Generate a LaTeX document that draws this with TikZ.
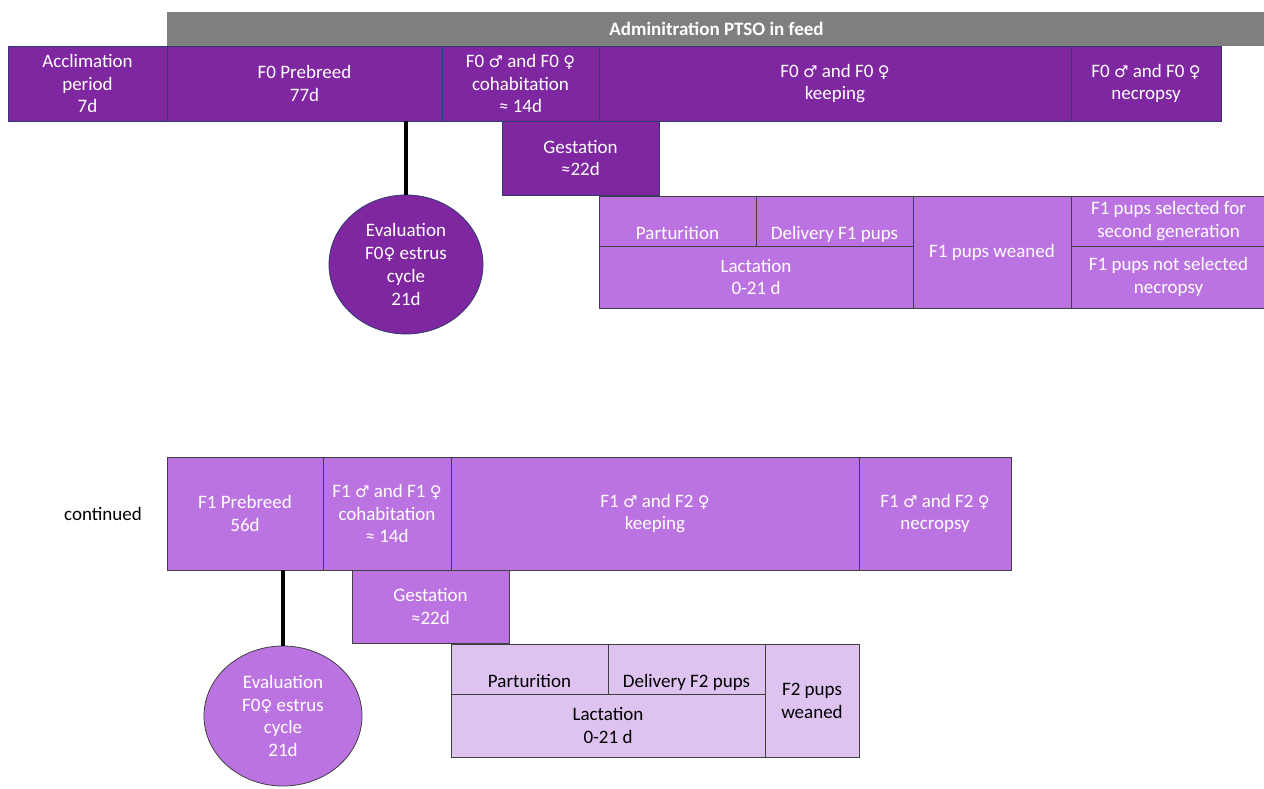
\documentclass[tikz,border=0pt]{standalone}
\usepackage{fontspec}
\setmainfont{Carlito}
\newfontfamily\symfont[Scale=0.85]{DejaVu Sans}
\usepackage{xcolor}
\usepackage{tikz}
\usetikzlibrary{shapes.geometric}

% sex symbols
\newcommand{\symMale}{{\symfont ♂}}
\newcommand{\symFemale}{{\symfont ♀}}

\begin{document}
\begin{tikzpicture}[x=1pt, y=-1pt,
    every node/.style={font=\fontsize{19}{22.8}\selectfont},
    phase/.style={draw, line width=0.8pt, inner sep=0pt, outer sep=0pt, align=center, text=white},
    genZero/.style={phase, fill=darkPurple, draw=borderBlue},
    genOne/.style={phase, fill=midPurple, draw=borderGray},
    genTwo/.style={phase, fill=palePurple, draw=borderGray, text=black},
    feedbar/.style={inner sep=0pt, outer sep=0pt, fill=barGray, text=white, font=\fontsize{19}{22.8}\selectfont\bfseries},
    lowtext/.style={text height=40pt, text depth=4pt},
    evalCircle/.style={ellipse, draw, line width=0.8pt, inner sep=0pt, align=center, text=white},
    stem/.style={line width=3.5pt, black}]
    % Colours of the generations
    \definecolor{darkPurple}{RGB}{127,39,160}  % F0
    \definecolor{midPurple}{RGB}{188,115,226}  % F1
    \definecolor{palePurple}{RGB}{222,195,240} % F2 pups
    \definecolor{barGray}{RGB}{127,127,127}
    \definecolor{borderBlue}{RGB}{47,58,110}
    \definecolor{borderGray}{RGB}{64,64,64}

    \useasboundingbox (0,0) rectangle (1264,789);

    % Macro for one box: name, style, left, top, right, bottom, text
    \newcommand{\drawPhase}[7]{
        \node[#2, minimum width={(#5-#3)*1pt}, minimum height={(#6-#4)*1pt}]
            (#1) at ({(#3+#5)/2}, {(#4+#6)/2}) {#7};
    }

    % Feed bar
    \drawPhase{feedBar}{feedbar}{167}{12}{1266}{46}{Adminitration PTSO in feed}

    % F0 generation
    \drawPhase{acclF0}{genZero}{8}{46}{167}{121}{Acclimation\\period\\7d}
    \drawPhase{preF0}{genZero}{167}{46}{442}{121}{F0 Prebreed\\77d}
    \drawPhase{cohabF0}{genZero}{442}{46}{599}{121}{F0 \symMale{} and F0 \symFemale\\cohabitation\\≈ 14d}
    \drawPhase{keepF0}{genZero}{599}{46}{1071}{121}{F0 \symMale{} and F0 \symFemale\\keeping}
    \drawPhase{necF0}{genZero}{1071}{46}{1221}{121}{F0 \symMale{} and F0 \symFemale\\necropsy}
    \drawPhase{gestF0}{genZero}{502}{121}{659}{195}{Gestation\\≈22d}

    % F1 pups
    \drawPhase{partF1}{genOne,lowtext}{599}{196}{756}{246}{Parturition}
    \drawPhase{delivF1}{genOne,lowtext}{756}{196}{913}{246}{Delivery F1 pups}
    \drawPhase{lactF1}{genOne}{599}{246}{913}{308}{Lactation\\0-21 d}
    \drawPhase{weanF1}{genOne}{913}{196}{1071}{308}{F1 pups weaned}
    \drawPhase{selF1}{genOne}{1071}{196}{1266}{246}{F1 pups selected for\\second generation}
    \drawPhase{notselF1}{genOne}{1071}{246}{1266}{308}{F1 pups not selected\\necropsy}

    % Estrus evaluation F0
    \node[evalCircle, fill=darkPurple, draw=borderBlue, minimum width=154pt, minimum height=139pt]
        (evalF0) at (406,264.5) {Evaluation\\F0\symFemale{} estrus\\cycle\\21d};
    \draw[stem] (evalF0.north) -- (evalF0.north |- preF0.south);

    % F1 generation
    \node[anchor=center] (contLabel) at (103,514) {continued};
    \drawPhase{preF1}{genOne}{167}{457}{323}{570}{F1 Prebreed\\56d}
    \drawPhase{cohabF1}{genOne}{323}{457}{451}{570}{F1 \symMale{} and F1 \symFemale\\cohabitation\\≈ 14d}
    \drawPhase{keepF1}{genOne}{451}{457}{859}{570}{F1 \symMale{} and F2 \symFemale\\keeping}
    \drawPhase{necF1}{genOne}{859}{457}{1011}{570}{F1 \symMale{} and F2 \symFemale\\necropsy}
    \drawPhase{gestF1}{genOne}{352}{570}{509}{643}{Gestation\\≈22d}

    % F2 pups
    \drawPhase{partF2}{genTwo,lowtext}{451}{644}{608}{694}{Parturition}
    \drawPhase{delivF2}{genTwo,lowtext}{608}{644}{765}{694}{Delivery F2 pups}
    \drawPhase{lactF2}{genTwo}{451}{694}{765}{757}{Lactation\\0-21 d}
    \drawPhase{weanF2}{genTwo}{765}{644}{859}{757}{F2 pups\\weaned}

    % Estrus evaluation F1
    \node[evalCircle, fill=midPurple, draw=borderGray, minimum width=158pt, minimum height=140pt]
        (evalF1) at (283,716) {Evaluation\\F0\symFemale{} estrus\\cycle\\21d};
    \draw[stem] (evalF1.north) -- (evalF1.north |- preF1.south);

\end{tikzpicture}
\end{document}
